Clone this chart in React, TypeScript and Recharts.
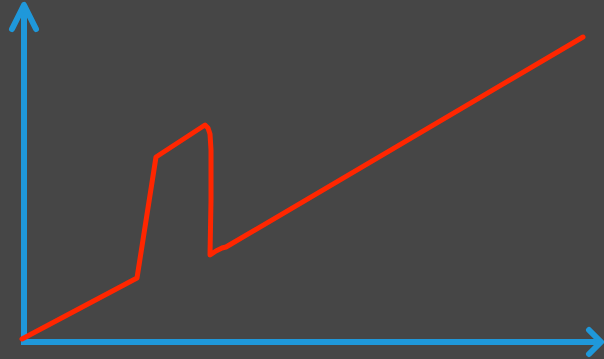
import React from 'react';
import { LineChart, Line, XAxis, YAxis, ReferenceLine } from 'recharts';

// Red curve points (x, y) in chart units (origin at lower-left of the picture)
const curveX = [22, 137, 156, 205, 208, 210, 211, 211, 210, 216, 222, 226, 583];
const curveY = [20, 81, 202, 234, 231, 225, 209, 159, 104, 108, 111, 112, 322];

// Axis extents in chart units
const xAxisStart = 21;
const xAxisEnd = 601;
const xAxisLevel = 17;
const yAxisStart = 14;
const yAxisEnd = 354;
const yAxisLevel = 24;

const data = curveX.map((x, i) => ({ x, y: curveY[i] }));

const BLUE = '#1f98da';
const RED = '#ff2600';

const ArrowShape = (props: any) => {
  const { x1, y1, x2, y2, armBack, armSide } = props;
  const dx = x2 - x1;
  const dy = y2 - y1;
  const len = Math.sqrt(dx * dx + dy * dy) || 1;
  const ux = dx / len;
  const uy = dy / len;
  const px = -uy;
  const py = ux;
  const ax = x2 - ux * armBack;
  const ay = y2 - uy * armBack;
  const p1 = `${ax + px * armSide},${ay + py * armSide}`;
  const p2 = `${ax - px * armSide},${ay - py * armSide}`;
  return (
    <g>
      <line x1={x1} y1={y1} x2={x2} y2={y2} stroke={BLUE} strokeWidth={6} />
      <polyline
        points={`${p1} ${x2},${y2} ${p2}`}
        fill="none"
        stroke={BLUE}
        strokeWidth={6}
        strokeLinecap="round"
        strokeLinejoin="round"
      />
    </g>
  );
};

export default function App() {
  return (
    <div
      style={{
        position: 'absolute',
        left: 0,
        top: 0,
        width: 604,
        height: 359,
        background: '#464646',
        overflow: 'hidden',
      }}
    >
      <LineChart width={604} height={359} data={data} margin={{ top: 0, right: 0, bottom: 0, left: 0 }}>
        <XAxis type="number" dataKey="x" domain={[0, 604]} hide />
        <YAxis type="number" domain={[0, 359]} hide />
        <ReferenceLine
          segment={[
            { x: yAxisLevel, y: yAxisStart },
            { x: yAxisLevel, y: yAxisEnd },
          ]}
          ifOverflow="visible"
          shape={(p: any) => <ArrowShape {...p} armBack={24} armSide={12} />}
        />
        <ReferenceLine
          segment={[
            { x: xAxisStart, y: xAxisLevel },
            { x: xAxisEnd, y: xAxisLevel },
          ]}
          ifOverflow="visible"
          shape={(p: any) => <ArrowShape {...p} armBack={12} armSide={12} />}
        />
        <Line
          type="linear"
          dataKey="y"
          stroke={RED}
          strokeWidth={5}
          strokeLinecap="round"
          strokeLinejoin="round"
          dot={false}
          activeDot={false}
          isAnimationActive={false}
        />
      </LineChart>
    </div>
  );
}
